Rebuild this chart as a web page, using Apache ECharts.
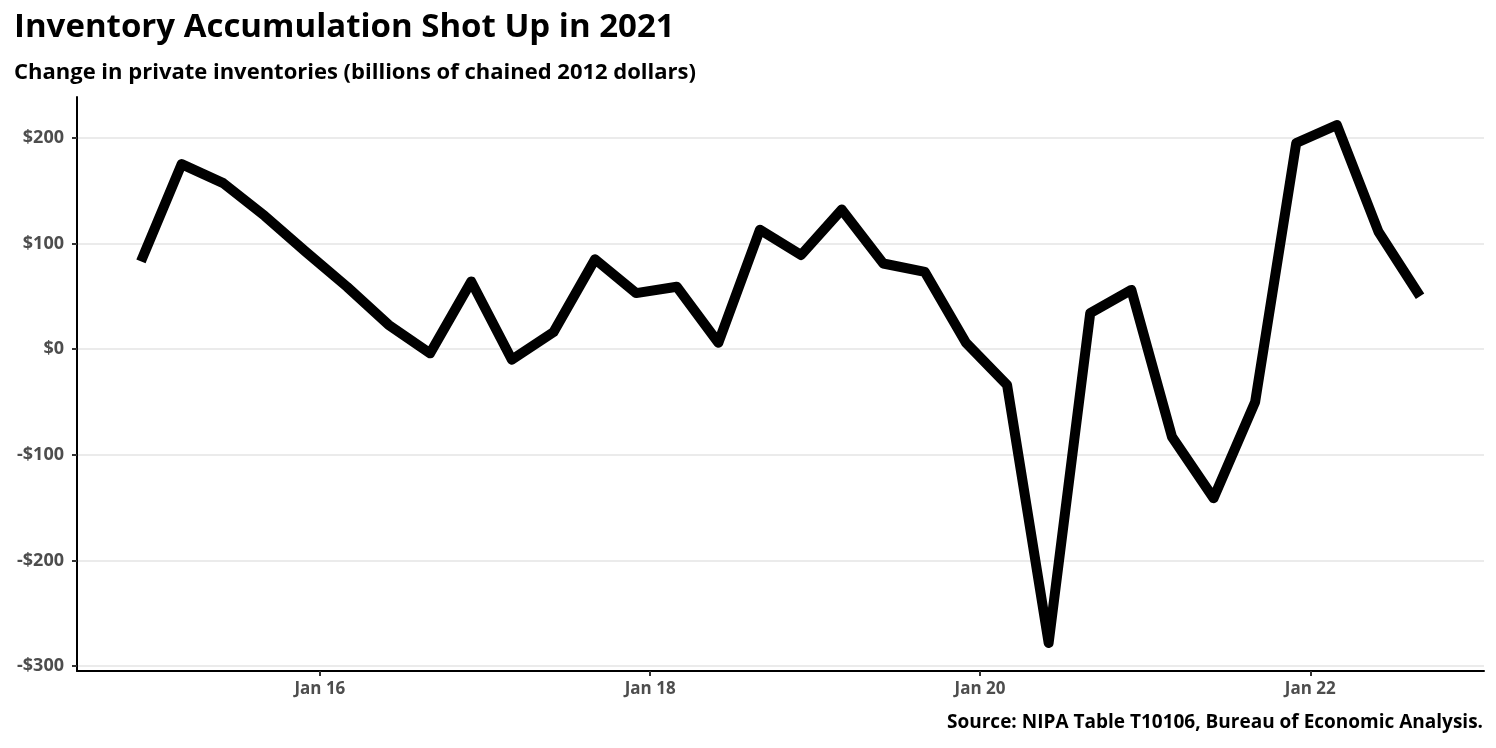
<!DOCTYPE html>
<html><head><meta charset="utf-8">
<script src="https://cdn.jsdelivr.net/npm/echarts@6/dist/echarts.min.js"></script>
<style>html,body{margin:0;padding:0;background:#fff}#c{width:1496px;height:748px}</style>
</head><body><div id="c"></div>
<script>
// Quarterly observations (placed at the first day of each quarter's last month)
const quarterDates = [
  '2014-12-01',
  '2015-03-01','2015-06-01','2015-09-01','2015-12-01',
  '2016-03-01','2016-06-01','2016-09-01','2016-12-01',
  '2017-03-01','2017-06-01','2017-09-01','2017-12-01',
  '2018-03-01','2018-06-01','2018-09-01','2018-12-01',
  '2019-03-01','2019-06-01','2019-09-01','2019-12-01',
  '2020-03-01','2020-06-01','2020-09-01','2020-12-01',
  '2021-03-01','2021-06-01','2021-09-01','2021-12-01',
  '2022-03-01','2022-06-01','2022-09-01'
];
// Change in private inventories, billions of chained 2012 dollars
const inventoryChange = [
  83,
  175, 157, 126, 92,
  59, 23, -4, 64,
  -10, 16, 85, 53,
  59, 6, 113, 89,
  132, 81, 73, 6,
  -34, -278, 34, 56,
  -83, -141, -50, 195,
  212, 111, 50
];
const yTickValues = [-300, -200, -100, 0, 100, 200];
const xTickDates = ['2016-01-01', '2018-01-01', '2020-01-01', '2022-01-01'];

const titleText = 'Inventory Accumulation Shot Up in 2021';
const subtitleText = 'Change in private inventories (billions of chained 2012 dollars)';
const sourceText = 'Source: NIPA Table T10106, Bureau of Economic Analysis.';

function ts(s) { const p = s.split('-').map(Number); return new Date(p[0], p[1] - 1, p[2]).getTime(); }

const xs = quarterDates.map(ts);
const span = xs[xs.length - 1] - xs[0];
const xMin = xs[0] - 0.05 * span;
const xMax = xs[xs.length - 1] + 0.05 * span;
const seriesData = xs.map((x, i) => [x, inventoryChange[i]]);
const xTicks = xTickDates.map(ts);

const FONT = '"Open Sans"';
const chart = echarts.init(document.getElementById('c'), null, { renderer: 'canvas' });
chart.setOption({
  animation: false,
  backgroundColor: '#ffffff',
  title: [
    { text: titleText, left: 9, top: 6,
      textStyle: { fontFamily: FONT, fontSize: 33, fontWeight: 'bold', color: '#000' } },
    { text: subtitleText, left: 9, top: 57,
      textStyle: { fontFamily: FONT, fontSize: 22, fontWeight: 'bold', color: '#000' } },
    { text: sourceText, right: 8, top: 708,
      textStyle: { fontFamily: FONT, fontSize: 19, fontWeight: 'bold', color: '#000' } }
  ],
  grid: { left: 77, right: 12, top: 97, bottom: 77, containLabel: false },
  xAxis: {
    type: 'value',
    min: xMin, max: xMax,
    axisLine: { show: true, onZero: false, lineStyle: { color: '#000', width: 2 } },
    axisTick: { show: true, length: 5, customValues: xTicks, lineStyle: { color: '#333', width: 2 } },
    axisLabel: {
      customValues: xTicks, margin: 10,
      fontFamily: FONT, fontSize: 17, fontWeight: 'bold', color: '#4d4d4d',
      formatter: function (v) { const d = new Date(v); return 'Jan ' + String(d.getFullYear()).slice(2); }
    },
    splitLine: { show: false }
  },
  yAxis: {
    type: 'value',
    min: -304.5, max: 238.5,
    axisLine: { show: true, onZero: false, lineStyle: { color: '#000', width: 2 } },
    axisTick: { show: true, length: 5, customValues: yTickValues, lineStyle: { color: '#333', width: 2 } },
    axisLabel: {
      customValues: yTickValues, margin: 13,
      fontFamily: FONT, fontSize: 18, fontWeight: 'bold', color: '#4d4d4d',
      formatter: function (v) { return (v < 0 ? '-$' : '$') + Math.abs(v); }
    },
    splitLine: { show: true, lineStyle: { color: '#ebebeb', width: 2 } }
  },
  series: [{
    type: 'line',
    data: seriesData,
    showSymbol: false,
    symbol: 'none',
    lineStyle: { color: '#000', width: 10, cap: 'butt', join: 'round' },
    z: 3
  }]
});
</script></body></html>
